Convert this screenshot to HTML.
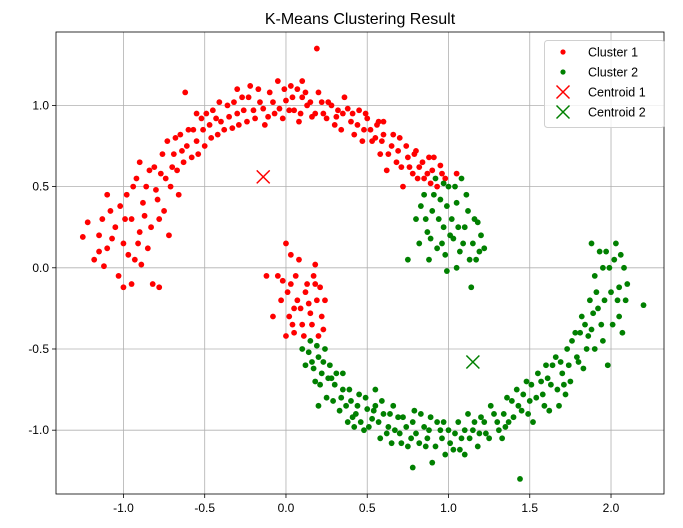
<!DOCTYPE html>
<html><head><meta charset="utf-8"><style>
body{margin:0;background:#fff;}
svg{display:block;font-family:"Liberation Sans","DejaVu Sans",sans-serif;}
</style></head><body>
<svg id="chart" width="683" height="528" viewBox="0 0 683 528"></svg>
<script>
const xTicks=[-1.0,-0.5,0.0,0.5,1.0,1.5,2.0];
const yTicks=[-1.0,-0.5,0.0,0.5,1.0];
const cluster1=[[-1.25,0.19],[-1.22,0.28],[-1.15,0.2],[-1.12,0.01],[-1.1,0.12],[-1.08,0.35],[-1.05,0.25],[-1.03,-0.05],[-1.0,0.15],[-0.98,0.45],[-1.0,-0.12],[-0.95,0.3],[-0.93,0.05],[-0.92,0.55],[-0.9,0.22],[-0.88,0.4],[-0.85,0.12],[-0.84,0.6],[-0.82,-0.1],[-0.8,0.48],[-0.78,0.3],[-0.76,0.7],[-0.74,0.55],[-0.72,0.2],[-0.7,0.62],[-0.68,0.8],[-0.66,0.45],[-0.64,0.72],[-0.6,0.85],[-0.58,0.68],[-0.55,0.78],[-0.52,0.92],[-0.5,0.75],[-0.47,0.88],[-0.45,0.97],[-0.42,0.82],[-0.4,0.9],[-0.36,1.0],[-0.33,0.86],[-0.3,0.95],[-0.27,1.05],[-0.24,0.9],[-0.22,1.12],[-0.2,0.97],[-0.16,1.02],[-0.13,0.88],[-0.1,1.08],[-0.07,0.95],[-0.05,1.15],[-0.02,0.92],[0.0,1.03],[0.03,1.12],[0.05,0.97],[0.08,0.9],[0.1,1.05],[0.13,1.0],[0.16,0.93],[0.19,1.35],[0.2,1.08],[0.23,0.95],[0.26,1.02],[0.3,0.88],[0.32,0.97],[0.36,1.05],[0.4,0.9],[0.42,0.82],[0.45,0.97],[0.48,0.85],[0.5,0.92],[0.53,0.78],[0.56,0.88],[0.58,0.7],[0.6,0.82],[0.62,0.6],[0.65,0.75],[0.68,0.65],[0.7,0.8],[0.72,0.5],[0.75,0.68],[0.78,0.58],[0.8,0.72],[0.82,0.62],[0.85,0.55],[0.88,0.68],[0.9,0.6],[0.93,0.5],[0.95,0.63],[0.98,0.55],[1.05,0.58],[-0.62,1.08],[-0.3,1.1],[0.1,1.15],[-0.9,0.65],[-1.1,0.45],[-0.95,-0.1],[-0.78,-0.12],[-0.55,0.95],[0.35,0.95],[0.6,0.9],
[-1.18,0.05],[-1.13,0.3],[-1.07,0.18],[-1.02,0.38],[-0.97,0.08],[-0.94,0.5],[-0.91,0.15],[-0.87,0.32],[-0.86,0.5],[-0.83,0.25],[-0.81,0.62],[-0.79,0.42],[-0.77,0.58],[-0.75,0.35],[-0.73,0.78],[-0.71,0.5],[-0.69,0.7],[-0.67,0.6],[-0.65,0.82],[-0.63,0.65],[-0.61,0.75],[-0.57,0.85],[-0.54,0.7],[-0.51,0.85],[-0.49,0.95],[-0.46,0.8],[-0.43,0.92],[-0.41,1.02],[-0.38,0.85],[-0.35,0.93],[-0.32,1.02],[-0.29,0.88],[-0.26,0.97],[-0.23,1.05],[-0.19,0.92],[-0.17,1.1],[-0.14,0.98],[-0.11,0.93],[-0.08,1.02],[-0.04,0.98],[-0.01,1.1],[0.02,0.97],[0.04,1.05],[0.07,1.1],[0.09,0.95],[0.12,1.08],[0.15,1.02],[0.18,0.95],[0.22,1.02],[0.25,0.92],[0.28,1.0],[0.31,0.93],[0.34,0.85],[0.38,0.98],[0.41,0.95],[0.44,0.88],[0.47,0.78],[0.49,0.95],[0.52,0.85],[0.55,0.8],[0.57,0.9],[0.59,0.78],[0.63,0.7],[0.66,0.82],[0.69,0.72],[0.71,0.62],[0.74,0.75],[0.76,0.62],[0.79,0.7],[0.81,0.55],[0.84,0.65],[0.87,0.58],[0.89,0.52],[0.91,0.68],[0.96,0.58],[-1.15,0.1],[-0.99,0.3],[-0.89,0.02],
[-0.05,-0.05],[-0.03,-0.2],[0.0,0.15],[0.02,-0.3],[0.03,-0.1],[0.05,-0.4],[0.07,-0.2],[0.08,0.05],[0.1,-0.35],[0.12,-0.15],[0.15,-0.28],[0.17,-0.05],[0.2,-0.42],[0.22,-0.3],[0.24,-0.2],[0.18,-0.1],[0.0,-0.42],[-0.12,-0.05],[-0.08,-0.3],[0.14,-0.22],[0.18,0.02],[0.05,-0.25],[0.01,-0.15],[0.04,-0.35],[0.06,-0.05],[0.09,-0.25],[0.11,-0.42],[0.13,-0.1],[0.16,-0.35],[0.19,-0.2],[0.21,-0.12],[0.23,-0.38],[-0.02,-0.08],[0.03,0.08]];
const cluster2=[[0.8,0.3],[0.82,0.15],[0.85,0.45],[0.87,0.22],[0.88,0.05],[0.9,0.35],[0.93,0.12],[0.95,0.42],[0.97,0.25],[0.98,0.08],[1.0,0.5],[1.02,0.3],[1.03,0.18],[1.05,0.4],[1.07,0.1],[1.08,0.55],[1.1,0.25],[1.12,0.35],[1.14,-0.12],[1.15,0.15],[1.17,0.05],[1.18,0.28],[1.2,0.2],[1.22,0.12],[0.75,0.05],[1.05,0.0],[0.92,0.55],
[0.83,0.38],[0.86,0.3],[0.89,0.18],[0.91,0.45],[0.94,0.3],[0.96,0.15],[0.99,0.38],[1.01,0.2],[1.04,0.5],[1.06,0.25],[1.09,0.15],[1.11,0.45],[1.13,0.05],[1.16,0.3],[1.19,0.1],[0.97,0.52],[0.99,-0.02],
[0.1,-0.5],[0.12,-0.6],[0.15,-0.45],[0.18,-0.7],[0.2,-0.55],[0.22,-0.65],[0.25,-0.8],[0.27,-0.6],[0.3,-0.72],[0.33,-0.88],[0.35,-0.75],[0.38,-0.95],[0.4,-0.82],[0.43,-0.9],[0.45,-0.78],[0.48,-1.0],[0.5,-0.87],[0.53,-0.93],[0.55,-0.75],[0.58,-1.05],[0.6,-0.9],[0.63,-0.98],[0.66,-0.85],[0.7,-1.02],[0.72,-0.92],[0.75,-1.1],[0.78,-0.95],[0.8,-1.02],[0.83,-0.9],[0.86,-1.1],[0.88,-1.0],[0.9,-1.2],[0.93,-0.95],[0.96,-1.05],[1.0,-1.0],[1.03,-1.12],[1.06,-0.95],[1.08,-1.05],[1.12,-0.9],[1.15,-1.0],[1.18,-1.1],[1.2,-0.92],[1.23,-1.02],[1.26,-0.85],[1.3,-0.95],[1.33,-1.05],[1.36,-0.8],[1.4,-0.92],[1.42,-0.75],[1.45,-0.88],[1.48,-0.7],[1.5,-0.82],[1.52,-0.95],[1.55,-0.65],[1.58,-0.78],[1.6,-0.6],[1.63,-0.72],[1.66,-0.55],[1.68,-0.85],[1.7,-0.65],[1.73,-0.5],[1.75,-0.7],[1.78,-0.4],[1.8,-0.58],[1.82,-0.3],[1.85,-0.5],[1.87,-0.2],[1.88,-0.38],[1.9,-0.05],[1.92,-0.25],[1.95,-0.45],[1.97,0.1],[2.0,-0.15],[2.02,0.05],[2.05,-0.3],[2.08,0.0],[2.1,-0.1],[2.03,0.15],[1.93,0.1],[2.2,-0.23],[1.44,-1.3],[0.2,-0.85],[1.98,-0.6],[0.78,-1.23],[0.16,-0.58],[0.28,-0.68],[0.42,-0.98],[0.65,-1.08],[0.98,-1.15],[1.1,-1.15],[1.35,-0.98],[1.62,-0.88],[1.9,-0.5],[2.05,-0.12],[1.95,0.0],[1.72,-0.78],[0.55,-0.85],[0.35,-0.65],[0.24,-0.5],
[0.14,-0.52],[0.17,-0.62],[0.19,-0.48],[0.21,-0.72],[0.23,-0.58],[0.26,-0.68],[0.29,-0.82],[0.31,-0.65],[0.34,-0.8],[0.37,-0.85],[0.39,-0.75],[0.41,-0.92],[0.44,-0.85],[0.46,-0.95],[0.49,-0.8],[0.51,-0.98],[0.54,-0.88],[0.57,-0.95],[0.59,-0.82],[0.62,-1.02],[0.64,-0.9],[0.67,-1.0],[0.69,-0.92],[0.71,-1.08],[0.74,-0.98],[0.77,-1.05],[0.79,-0.88],[0.82,-1.08],[0.85,-0.98],[0.87,-1.05],[0.89,-0.92],[0.92,-1.1],[0.95,-1.0],[0.97,-0.95],[1.01,-1.08],[1.04,-1.02],[1.07,-1.12],[1.1,-1.0],[1.13,-1.05],[1.16,-0.95],[1.19,-1.02],[1.22,-0.95],[1.25,-1.05],[1.28,-0.9],[1.31,-1.0],[1.34,-0.9],[1.37,-0.95],[1.39,-0.82],[1.43,-0.85],[1.46,-0.78],[1.49,-0.9],[1.51,-0.72],[1.54,-0.8],[1.57,-0.7],[1.59,-0.85],[1.61,-0.68],[1.64,-0.6],[1.67,-0.75],[1.69,-0.58],[1.71,-0.72],[1.74,-0.6],[1.76,-0.45],[1.79,-0.55],[1.81,-0.4],[1.83,-0.62],[1.84,-0.35],[1.86,-0.42],[1.89,-0.28],[1.91,-0.15],[1.94,-0.35],[1.96,-0.2],[1.99,0.0],[2.01,-0.35],[2.04,-0.2],[2.06,0.08],[2.09,-0.2],[1.88,0.15],[2.07,-0.4]];
const centroids=[[-0.14,0.56],[1.15,-0.58]];
const xDomain=[-1.415,2.326], yDomain=[-1.393,1.452];
const L=56,R=664,T=32,B=494;
function sx(v){return L+(v-xDomain[0])/(xDomain[1]-xDomain[0])*(R-L);}
function sy(v){return B-(v-yDomain[0])/(yDomain[1]-yDomain[0])*(B-T);}
const NS='http://www.w3.org/2000/svg';
const svg=document.getElementById('chart');
function mk(tag,attrs,parent){const e=document.createElementNS(NS,tag);for(const k in attrs)e.setAttribute(k,attrs[k]);(parent||svg).appendChild(e);return e;}
const title=mk('text',{x:(L+R)/2,y:24,'text-anchor':'middle','font-size':16,fill:'#000'});
title.textContent='K-Means Clustering Result';


const grid=mk('g',{});


xTicks.forEach(t=>{
  const x=sx(t);
  mk('line',{x1:x,x2:x,y1:T,y2:B,stroke:'#b0b0b0','stroke-width':0.8},grid);
  mk('line',{x1:x,x2:x,y1:B,y2:B+4,stroke:'#000','stroke-width':0.8});
  const lb=mk('text',{x:x,y:B+18,'text-anchor':'middle','font-size':12,fill:'#000'});
  lb.textContent=t.toFixed(1);
  
  
});
yTicks.forEach(t=>{
  const y=sy(t);
  mk('line',{x1:L,x2:R,y1:y,y2:y,stroke:'#b0b0b0','stroke-width':0.8},grid);
  mk('line',{x1:L-4,x2:L,y1:y,y2:y,stroke:'#000','stroke-width':0.8});
  const lb=mk('text',{x:L-7,y:y+4,'text-anchor':'end','font-size':12,fill:'#000'});
  lb.textContent=t.toFixed(1);
  
  
});
const g1=mk('g',{fill:'#ff0000'});


cluster1.forEach(p=>{const c=mk('circle',{cx:sx(p[0]),cy:sy(p[1]),r:2.9},g1);

});
const g2=mk('g',{fill:'#008000'});


cluster2.forEach(p=>{const c=mk('circle',{cx:sx(p[0]),cy:sy(p[1]),r:2.9},g2);

});
function cross(x,y,col,parent){const s=6.5;
mk('line',{x1:x-s,y1:y-s,x2:x+s,y2:y+s,stroke:col,'stroke-width':1.5},parent);
mk('line',{x1:x-s,y1:y+s,x2:x+s,y2:y-s,stroke:col,'stroke-width':1.5},parent);}
const colors=['#ff0000','#008000'];
centroids.forEach((c,i)=>{const g=mk('g',{});


cross(sx(c[0]),sy(c[1]),colors[i],g);});
mk('rect',{x:L,y:T,width:R-L,height:B-T,fill:'none',stroke:'#000','stroke-width':0.8});
const lg=mk('g',{});


mk('rect',{x:544.5,y:40.5,width:120,height:87,rx:3,fill:'#fff','fill-opacity':0.8,stroke:'#d0d0d0'},lg);
const labels=['Cluster 1','Cluster 2','Centroid 1','Centroid 2'];
labels.forEach((t,i)=>{const y=52+i*20;
const e=mk('g',{},lg);


if(i<2) mk('circle',{cx:563,cy:y,r:2.6,fill:colors[i]},e); else cross(563,y,colors[i-2],e);
const tx=mk('text',{x:588,y:y+4.5,'font-size':12.5,fill:'#000'},e);tx.textContent=t;});
</script>
</body></html>
